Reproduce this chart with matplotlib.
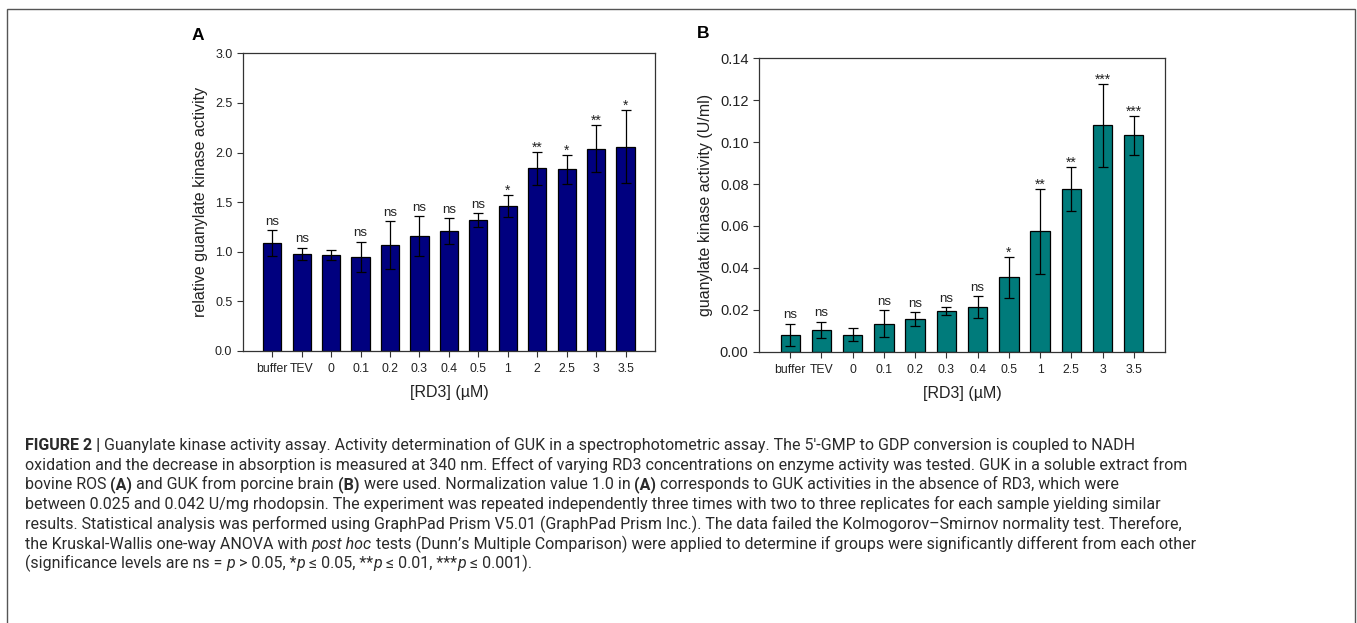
import matplotlib
matplotlib.use("Agg")
import matplotlib.pyplot as plt
from matplotlib import font_manager
from matplotlib.patches import Rectangle

# panel A: relative activity, GUK from bovine ROS
labels_a = ["buffer", "TEV", "0", "0.1", "0.2", "0.3", "0.4", "0.5", "1", "2", "2.5", "3", "3.5"]
values_a = [1.09, 0.98, 0.97, 0.95, 1.07, 1.16, 1.21, 1.32, 1.46, 1.84, 1.83, 2.04, 2.06]
errors_a = [0.13, 0.06, 0.05, 0.15, 0.24, 0.20, 0.13, 0.07, 0.11, 0.17, 0.15, 0.24, 0.37]
sig_a = ["ns", "ns", "", "ns", "ns", "ns", "ns", "ns", "*", "**", "*", "**", "*"]

# panel B: activity in U/ml, GUK from porcine brain
labels_b = ["buffer", "TEV", "0", "0.1", "0.2", "0.3", "0.4", "0.5", "1", "2.5", "3", "3.5"]
values_b = [0.0080, 0.0103, 0.0081, 0.0134, 0.0156, 0.0194, 0.0213, 0.0355, 0.0574, 0.0776, 0.1080, 0.1032]
errors_b = [0.0054, 0.0040, 0.0030, 0.0064, 0.0034, 0.0019, 0.0053, 0.0098, 0.0202, 0.0107, 0.0199, 0.0093]
sig_b = ["ns", "ns", "", "ns", "ns", "ns", "ns", "*", "**", "**", "***", "***"]

plt.rcParams['font.family'] = ['Liberation Sans', 'DejaVu Sans']

names = {f.name for f in font_manager.fontManager.ttflist}
cap_font = 'Liberation Sans Narrow' if 'Liberation Sans Narrow' in names else 'Roboto'

W, H = 1357, 623
fig = plt.figure(figsize=(W / 100, H / 100), dpi=100)


def draw_panel(rect, labels, values, errors, sig, color, ylim, yticks, yfmt,
               ylabel, tick_fs, xtick_fs, pad):
    ax = fig.add_axes(rect)
    x = list(range(len(values)))
    ax.bar(x, values, width=0.62, color=color, edgecolor='black', linewidth=0.9, zorder=2)
    ax.errorbar(x, values, yerr=errors, fmt='none', ecolor='black', elinewidth=0.9,
                capsize=3.6, capthick=0.9, zorder=3)
    for i, s in enumerate(sig):
        if not s:
            continue
        top = values[i] + errors[i]
        if s == "ns":
            ax.text(i, top + pad * 0.4, s, ha='center', va='bottom', fontsize=9.5, color='#222222')
        else:
            ax.text(i, top - pad * 0.5, s, ha='center', va='bottom', fontsize=10,
                    color='#222222')
    ax.set_xlim(-1, len(values))
    ax.set_ylim(*ylim)
    ax.set_yticks(yticks)
    ax.set_yticklabels([yfmt.format(v) for v in yticks])
    ax.set_xticks(x)
    ax.set_xticklabels(labels)
    ax.tick_params(axis='y', labelsize=tick_fs, colors='#333333', length=4, width=0.8,
                   labelcolor='#222222')
    ax.tick_params(axis='x', labelsize=xtick_fs, length=4, width=0.8, pad=5,
                   colors='#333333', labelcolor='#222222')
    for sp in ax.spines.values():
        sp.set_linewidth(0.9)
        sp.set_color('#333333')
    ax.set_xlabel("[RD3] (µM)", fontsize=11.5, color='#222222', labelpad=7)
    ax.set_ylabel(ylabel, fontsize=11.5, color='#222222', labelpad=5)
    return ax


ax_a = draw_panel([0.1789, 0.4366, 0.3038, 0.4778], labels_a, values_a, errors_a, sig_a,
                  '#00007f', (0, 3.0), [0, 0.5, 1.0, 1.5, 2.0, 2.5, 3.0], "{:.1f}",
                  "relative guanylate kinase activity", 9, 8.8, 0.06)
ax_b = draw_panel([0.5593, 0.4355, 0.2992, 0.4709], labels_b, values_b, errors_b, sig_b,
                  '#007b7b', (0, 0.14), [0, 0.02, 0.04, 0.06, 0.08, 0.10, 0.12, 0.14], "{:.2f}",
                  "guanylate kinase activity (U/ml)", 10.5, 8.8, 0.0028)

fig.text(192 / W, 1 - 35 / H, "A", fontsize=12.5, fontweight='bold', ha='left', va='center')
fig.text(697 / W, 1 - 33 / H, "B", fontsize=12.5, fontweight='bold', ha='left', va='center')

# frame around figure and caption
fig.add_artist(Rectangle((7 / W, -0.01), (1355 - 7) / W, 1 - 9 / H + 0.01,
                         transform=fig.transFigure, fill=False, edgecolor='#555555',
                         linewidth=1.0))

# caption, line by line, with bold / italic runs
caption = [
    [("FIGURE 2 |", 'bold', 'normal'),
     (" Guanylate kinase activity assay. Activity determination of GUK in a spectrophotometric assay. "
      "The 5\u2032-GMP to GDP conversion is coupled to NADH", 'normal', 'normal')],
    [("oxidation and the decrease in absorption is measured at 340 nm. Effect of varying RD3 "
      "concentrations on enzyme activity was tested. GUK in a soluble extract from", 'normal', 'normal')],
    [("bovine ROS ", 'normal', 'normal'), ("(A)", 'bold', 'normal'),
     (" and GUK from porcine brain ", 'normal', 'normal'), ("(B)", 'bold', 'normal'),
     (" were used. Normalization value 1.0 in ", 'normal', 'normal'), ("(A)", 'bold', 'normal'),
     (" corresponds to GUK activities in the absence of RD3, which were", 'normal', 'normal')],
    [("between 0.025 and 0.042 U/mg rhodopsin. The experiment was repeated independently three times "
      "with two to three replicates for each sample yielding similar", 'normal', 'normal')],
    [("results. Statistical analysis was performed using GraphPad Prism V5.01 (GraphPad Prism Inc.). "
      "The data failed the Kolmogorov\u2013Smirnov normality test. Therefore,", 'normal', 'normal')],
    [("the Kruskal-Wallis one-way ANOVA with ", 'normal', 'normal'), ("post hoc", 'normal', 'italic'),
     (" tests (Dunn\u2019s Multiple Comparison) were applied to determine if groups were significantly "
      "different from each other", 'normal', 'normal')],
    [("(significance levels are ns = ", 'normal', 'normal'), ("p", 'normal', 'italic'),
     (" > 0.05, *", 'normal', 'normal'), ("p", 'normal', 'italic'),
     (" \u2264 0.05, **", 'normal', 'normal'), ("p", 'normal', 'italic'),
     (" \u2264 0.01, ***", 'normal', 'normal'), ("p", 'normal', 'italic'),
     (" \u2264 0.001).", 'normal', 'normal')],
]
line_y = [445, 464.5, 484.3, 504.2, 524.2, 544.1, 563.6]

fig.canvas.draw()
renderer = fig.canvas.get_renderer()
cap_size = 12.6 if cap_font == 'Liberation Sans Narrow' else 11.5
for runs, y in zip(caption, line_y):
    xpix = 25
    for txt, weight, style in runs:
        t = fig.text(xpix / W, 1 - y / H, txt, fontsize=cap_size, fontweight=weight,
                     fontstyle=style, ha='left', va='center', color='#2b2b2b',
                     family=[cap_font, 'DejaVu Sans'])
        bb = t.get_window_extent(renderer=renderer)
        xpix = bb.x1

fig.savefig("out.png", dpi=100)
